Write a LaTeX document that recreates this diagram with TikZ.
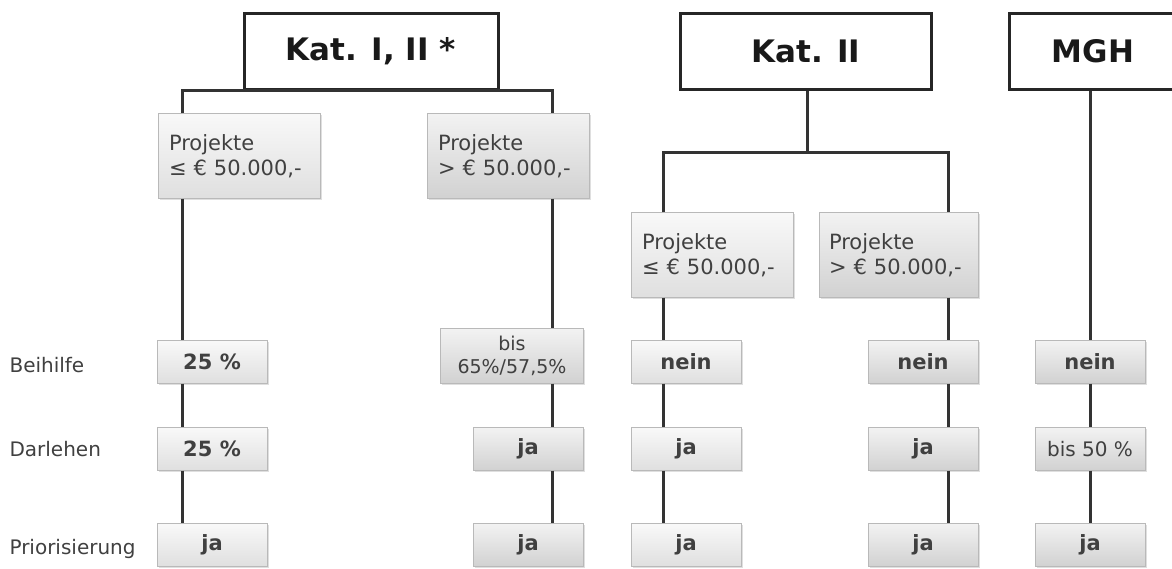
\documentclass[tikz,border=0pt]{standalone}
\usepackage{fontspec}
\setmainfont{DejaVu Sans}
\usetikzlibrary{shadows}

\begin{document}
\begin{tikzpicture}[x=1pt, y=-1pt,
		titlebox/.style={draw=black!85, line width=3pt, fill=white, minimum height=76pt,
			font=\fontsize{31}{35}\selectfont\bfseries, text=black!90},
		graybox/.style={draw=gray!55, top color=gray!5, bottom color=gray!25,
			drop shadow={opacity=0.25, shadow xshift=1.5pt, shadow yshift=-1.5pt}},
		darkbox/.style={top color=gray!10, bottom color=gray!36},
		projbox/.style={graybox, minimum width=162pt, minimum height=85pt, text width=140pt,
			align=left, font=\fontsize{21}{25}\selectfont, text=black!75},
		valbox/.style={graybox, minimum width=110pt, minimum height=43pt,
			font=\fontsize{21}{25}\selectfont\bfseries, text=black!75},
		rowlabel/.style={anchor=west, font=\fontsize{20}{24}\selectfont, text=black!75},
		link/.style={draw=black!80, line width=3pt}]
		\useasboundingbox (0,0) rectangle (1172,568);

		% Kategorien
		\node[titlebox, minimum width=254pt] (kat1) at (371,51) {Kat. I, II *};
		\node[titlebox, minimum width=251pt] (kat2) at (806,51) {Kat. II};
		\node[titlebox, minimum width=168pt] (mgh) at (1093,51) {MGH};

		% Projektgroessen
		\node[projbox] (p1l) at (239,156) {Projekte\\≤ € 50.000,-};
		\node[projbox, darkbox] (p1r) at (508,156) {Projekte\\> € 50.000,-};
		\node[projbox] (p2l) at (712,255) {Projekte\\≤ € 50.000,-};
		\node[projbox, darkbox, minimum width=159pt] (p2r) at (899,255) {Projekte\\> € 50.000,-};

		% Zeilen
		\node[rowlabel] (lbei) at (6,365) {Beihilfe};
		\node[rowlabel] (ldar) at (6,449) {Darlehen};
		\node[rowlabel] (lpri) at (6,549) {Priorisierung};

		\node[valbox] (a1) at (212,362) {25 \%};
		\node[valbox] (a2) at (212,449) {25 \%};
		\node[valbox] (a3) at (212,545) {ja};

		\node[valbox, darkbox, minimum width=143pt, minimum height=55pt, align=center,
			font=\fontsize{19}{23}\selectfont] (b1) at (512,356) {bis\\65\%/57,5\%};
		\node[valbox, darkbox] (b2) at (528,449) {ja};
		\node[valbox, darkbox] (b3) at (528,545) {ja};

		\node[valbox] (c1) at (686,362) {nein};
		\node[valbox] (c2) at (686,449) {ja};
		\node[valbox] (c3) at (686,545) {ja};

		\node[valbox, darkbox] (d1) at (923,362) {nein};
		\node[valbox, darkbox] (d2) at (923,449) {ja};
		\node[valbox, darkbox] (d3) at (923,545) {ja};

		\node[valbox, darkbox] (e1) at (1090,362) {nein};
		\node[valbox, darkbox, font=\fontsize{20}{24}\selectfont] (e2) at (1090,449) {bis 50 \%};
		\node[valbox, darkbox] (e3) at (1090,545) {ja};

		% Verbindungen
		\coordinate (jA) at (182,90);
		\coordinate (jB) at (552,90);
		\coordinate (jK) at (807,152);
		\coordinate (jC) at (663,152);
		\coordinate (jD) at (948,152);
		\coordinate (jE) at (1090,90);
		\draw[link] (p1l.north -| jA) -- (jA) -- (jB) -- (p1r.north -| jB);
		\draw[link] (kat2.south -| jK) -- (jK);
		\draw[link] (p2l.north -| jC) -- (jC) -- (jD) -- (p2r.north -| jD);
		\draw[link] (mgh.south -| jE) -- (e1.north -| jE);
		\foreach \j/\top/\x/\y/\z in {jA/p1l/a1/a2/a3, jB/p1r/b1/b2/b3, jC/p2l/c1/c2/c3, jD/p2r/d1/d2/d3} {
			\draw[link] (\top.south -| \j) -- (\x.north -| \j);
			\draw[link] (\x.south -| \j) -- (\y.north -| \j);
			\draw[link] (\y.south -| \j) -- (\z.north -| \j);
		}
		\draw[link] (e1.south -| jE) -- (e2.north -| jE);
		\draw[link] (e2.south -| jE) -- (e3.north -| jE);
	\end{tikzpicture}
\end{document}
